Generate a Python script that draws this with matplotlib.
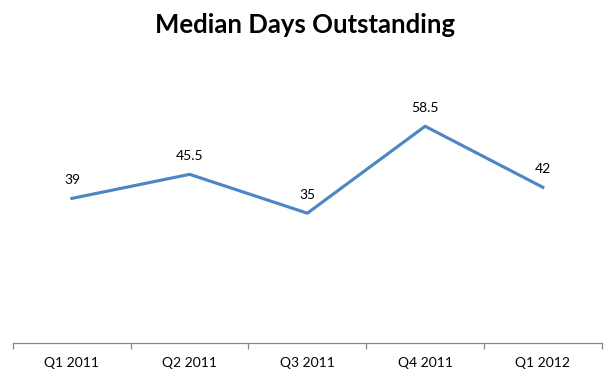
import matplotlib.pyplot as plt
import numpy as np

quarters = ['Q1 2011', 'Q2 2011', 'Q3 2011', 'Q4 2011', 'Q1 2012']
median_days = [39, 45.5, 35, 58.5, 42]
value_labels = ['39', '45.5', '35', '58.5', '42']

plt.rcParams['font.family'] = ['Lato', 'DejaVu Sans']

fig = plt.figure(figsize=(6.11, 3.76), dpi=100)
ax = fig.add_axes([0.0213, 0.0886, 0.9635, 0.6888])

x = np.arange(len(quarters))
ax.plot(x, median_days, color='#4D87C3', linewidth=2.25, solid_joinstyle='round')

for xi, v, lab in zip(x, median_days, value_labels):
    ax.annotate(lab, xy=(xi, v), xytext=(0, 9), textcoords='offset points',
                ha='center', va='bottom', fontsize=10, color='black')

ax.set_xlim(-0.5, len(quarters) - 0.5)
ax.set_ylim(0, 70)

for s in ['top', 'right', 'left']:
    ax.spines[s].set_visible(False)
ax.spines['bottom'].set_color('#868686')
ax.spines['bottom'].set_linewidth(0.9)

ax.set_yticks([])
ax.set_xticks(np.arange(-0.5, len(quarters), 1.0), minor=False)
ax.set_xticklabels([])
ax.tick_params(axis='x', which='major', length=4, color='#868686', width=0.9)
ax.set_xticks(x, minor=True)
ax.set_xticklabels(quarters, minor=True)
ax.tick_params(axis='x', which='minor', length=0, pad=10, labelsize=10)

fig.suptitle('Median Days Outstanding', x=0.5, y=0.965, fontsize=18.5, fontweight='bold')

fig.savefig('out.png', dpi=100)
